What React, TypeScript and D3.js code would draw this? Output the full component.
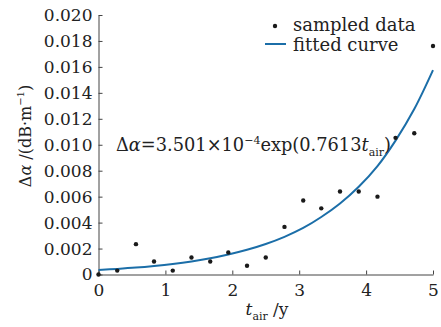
import React, { useEffect, useRef } from 'react';
import * as d3 from 'd3';

// sampled data (years, dB/m)
const sampleT = [0, 0.28, 0.56, 0.83, 1.11, 1.39, 1.67, 1.94, 2.22, 2.5, 2.78, 3.06, 3.33, 3.61, 3.89, 4.17, 4.44, 4.72, 5];
const sampleVals = [0, 0.0003, 0.00234, 0.001, 0.0003, 0.00131, 0.001, 0.0017, 0.00067, 0.00131, 0.00367, 0.0057, 0.0051, 0.0064, 0.0064, 0.006, 0.01053, 0.01089, 0.01761];
// fitted curve read at the same t
const fittedVals = [0.00035, 0.000433, 0.000534, 0.00066, 0.000816, 0.001008, 0.001245, 0.001538, 0.001901, 0.002348, 0.002901, 0.003585, 0.004429, 0.005472, 0.00676, 0.008353, 0.010318, 0.012748, 0.01575];
const xTicks = [0, 1, 2, 3, 4, 5];
const yTicks = [0, 0.002, 0.004, 0.006, 0.008, 0.01, 0.012, 0.014, 0.016, 0.018, 0.02];
const yTickLabels = ['0', '0.002', '0.004', '0.006', '0.008', '0.010', '0.012', '0.014', '0.016', '0.018', '0.020'];

const W = 441;
const H = 327;
const FONT = 'DejaVu Serif';
const BLUE = '#1b6ea8';

const App: React.FC = () => {
  const svgRef = useRef<SVGSVGElement | null>(null);

  useEffect(() => {
    const svg = d3.select(svgRef.current);
    svg.selectAll('*').remove();
    const margin = { top: 15, right: 8, bottom: 52.5, left: 98.5 };

    const x = d3.scaleLinear().domain([0, 5]).range([margin.left, W - margin.right]);
    const y = d3.scaleLinear().domain([0, 0.02]).range([H - margin.bottom, margin.top]);

    // axes
    const xAxis = svg
      .append('g')
      .attr('transform', `translate(0,${y(0)})`)
      .call(d3.axisBottom(x).tickValues(xTicks).tickSizeInner(-4).tickSizeOuter(0).tickPadding(9).tickFormat(d3.format('d')) as any);
    const yAxis = svg
      .append('g')
      .attr('transform', `translate(${x(0)},0)`)
      .call(
        d3
          .axisLeft(y)
          .tickValues(yTicks)
          .tickSizeInner(-4)
          .tickSizeOuter(0)
          .tickPadding(6)
          .tickFormat((_d, i) => yTickLabels[i]) as any
      );
    [xAxis, yAxis].forEach(a => {
      a.select('.domain').attr('stroke', '#444').attr('stroke-width', 1);
      a.selectAll('.tick line').attr('stroke', '#444');
      a.selectAll('.tick text').attr('font-family', FONT).attr('font-size', 17).attr('fill', '#222');
    });

    // fitted curve
    const line = d3
      .line<number>()
      .x((_d, i) => x(sampleT[i]))
      .y(d => y(d))
      .curve(d3.curveCatmullRom);
    svg
      .append('path')
      .datum(fittedVals)
      .attr('d', line)
      .attr('fill', 'none')
      .attr('stroke', BLUE)
      .attr('stroke-width', 2);

    // sampled points
    svg
      .append('g')
      .selectAll('circle')
      .data(sampleVals)
      .enter()
      .append('circle')
      .attr('cx', (_d, i) => x(sampleT[i]))
      .attr('cy', d => y(d))
      .attr('r', 2.2)
      .attr('fill', '#1a1a1a');

    // legend
    const lg = svg.append('g').attr('font-family', FONT).attr('font-size', 18).attr('fill', '#222');
    lg.append('circle').attr('cx', 275).attr('cy', 26).attr('r', 2.2).attr('fill', '#1a1a1a');
    lg.append('text').attr('x', 293).attr('y', 31).text('sampled data');
    lg.append('line').attr('x1', 265).attr('x2', 286).attr('y1', 44).attr('y2', 44).attr('stroke', BLUE).attr('stroke-width', 2);
    lg.append('text').attr('x', 293).attr('y', 51).text('fitted curve');

    // equation
    const eq = svg.append('text').attr('x', 116).attr('y', 151).attr('font-family', FONT).attr('font-size', 17.8).attr('fill', '#222');
    eq.append('tspan').text('Δ');
    eq.append('tspan').attr('font-style', 'italic').text('α');
    eq.append('tspan').text('=3.501×10');
    eq.append('tspan').attr('font-size', 11).attr('dy', -7).text('−4');
    eq.append('tspan').attr('dy', 7).text('exp(0.7613');
    eq.append('tspan').attr('font-style', 'italic').text('t');
    eq.append('tspan').attr('font-size', 11).attr('dy', 5).text('air');
    eq.append('tspan').attr('dy', -5).text(')');

    // x label
    const xl = svg.append('text').attr('x', 267).attr('y', 315).attr('text-anchor', 'middle').attr('font-family', FONT).attr('font-size', 17).attr('fill', '#222');
    xl.append('tspan').attr('font-style', 'italic').text('t');
    xl.append('tspan').attr('font-size', 11).attr('dy', 5).text('air');
    xl.append('tspan').attr('dy', -5).text(' /y');

    // y label
    const yl = svg
      .append('text')
      .attr('transform', `translate(31,136) rotate(-90)`)
      .attr('text-anchor', 'middle')
      .attr('font-family', FONT)
      .attr('font-size', 16)
      .attr('fill', '#222');
    yl.append('tspan').text('Δ');
    yl.append('tspan').attr('font-style', 'italic').text('α');
    yl.append('tspan').text(' /(dB·m');
    yl.append('tspan').attr('font-size', 10).attr('dy', -7).text('−1');
    yl.append('tspan').attr('dy', 7).text(')');
  }, []);

  return (
    <div style={{ position: 'absolute', left: 0, top: 0 }}>
      <svg ref={svgRef} width={W} height={H} style={{ display: 'block', background: '#fff' }}></svg>
    </div>
  );
};

export default App;
